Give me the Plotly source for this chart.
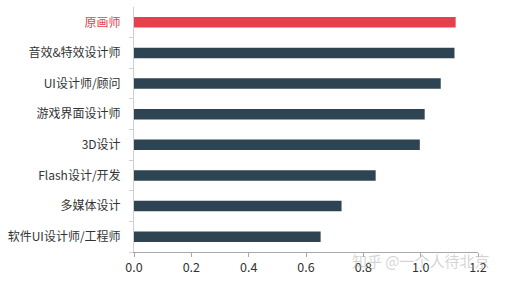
import plotly.graph_objects as go

categories = ["原画师", "音效&特效设计师", "UI设计师/顾问", "游戏界面设计师",
              "3D设计", "Flash设计/开发", "多媒体设计", "软件UI设计师/工程师"]
values = [1.122, 1.118, 1.07, 1.014, 0.997, 0.843, 0.724, 0.651]
x_ticks = [0.0, 0.2, 0.4, 0.6, 0.8, 1.0, 1.2]
x_tick_labels = ["0.0", "0.2", "0.4", "0.6", "0.8", "1.0", "1.2"]
highlight = "原画师"
watermark = "知乎 @一个人待北京"

RED = "#e5404c"
DARK = "#2e4452"
colors = [RED if c == highlight else DARK for c in categories]
ticktext = [f"<span style='color:{RED}'>{c}</span>" if c == highlight else c for c in categories]

fig = go.Figure(go.Bar(
    x=values, y=categories, orientation="h",
    marker=dict(color=colors, line=dict(width=0)),
    width=0.34,
))

fig.update_layout(
    width=507, height=281,
    margin=dict(l=134, r=29, t=7, b=29),
    paper_bgcolor="white", plot_bgcolor="white",
    font=dict(family="Noto Sans CJK SC", size=11.5, color="#333333"),
    showlegend=False,
    xaxis=dict(range=[0, 1.2], tickvals=x_ticks, ticktext=x_tick_labels,
               showgrid=False, zeroline=False, showline=True, linecolor="#a8a8a8",
               ticks="outside", ticklen=4, tickcolor="#a8a8a8", automargin=False,
               tickfont=dict(size=12.5, color="#333333")),
    yaxis=dict(type="category", categoryorder="array", categoryarray=categories[::-1],
               tickvals=categories, ticktext=ticktext, automargin=False,
               showgrid=False, zeroline=False, showline=True, linecolor="#d0d0d0",
               ticks="outside", ticklen=4, tickcolor="#d0d0d0", tickson="boundaries",
               ticklabelstandoff=10, tickfont=dict(size=12, color="#333333")),
    annotations=[dict(text=watermark, x=1.0, y=0.0, xref="paper", yref="paper",
                      xanchor="right", yanchor="middle", xshift=14, yshift=-8,
                      showarrow=False,
                      font=dict(size=15, color="rgba(170,170,170,0.5)"))],
)

fig.write_html("out.html", config={"displayModeBar": False},
               post_script="document.body.style.margin='0px';document.body.style.padding='0px';")
